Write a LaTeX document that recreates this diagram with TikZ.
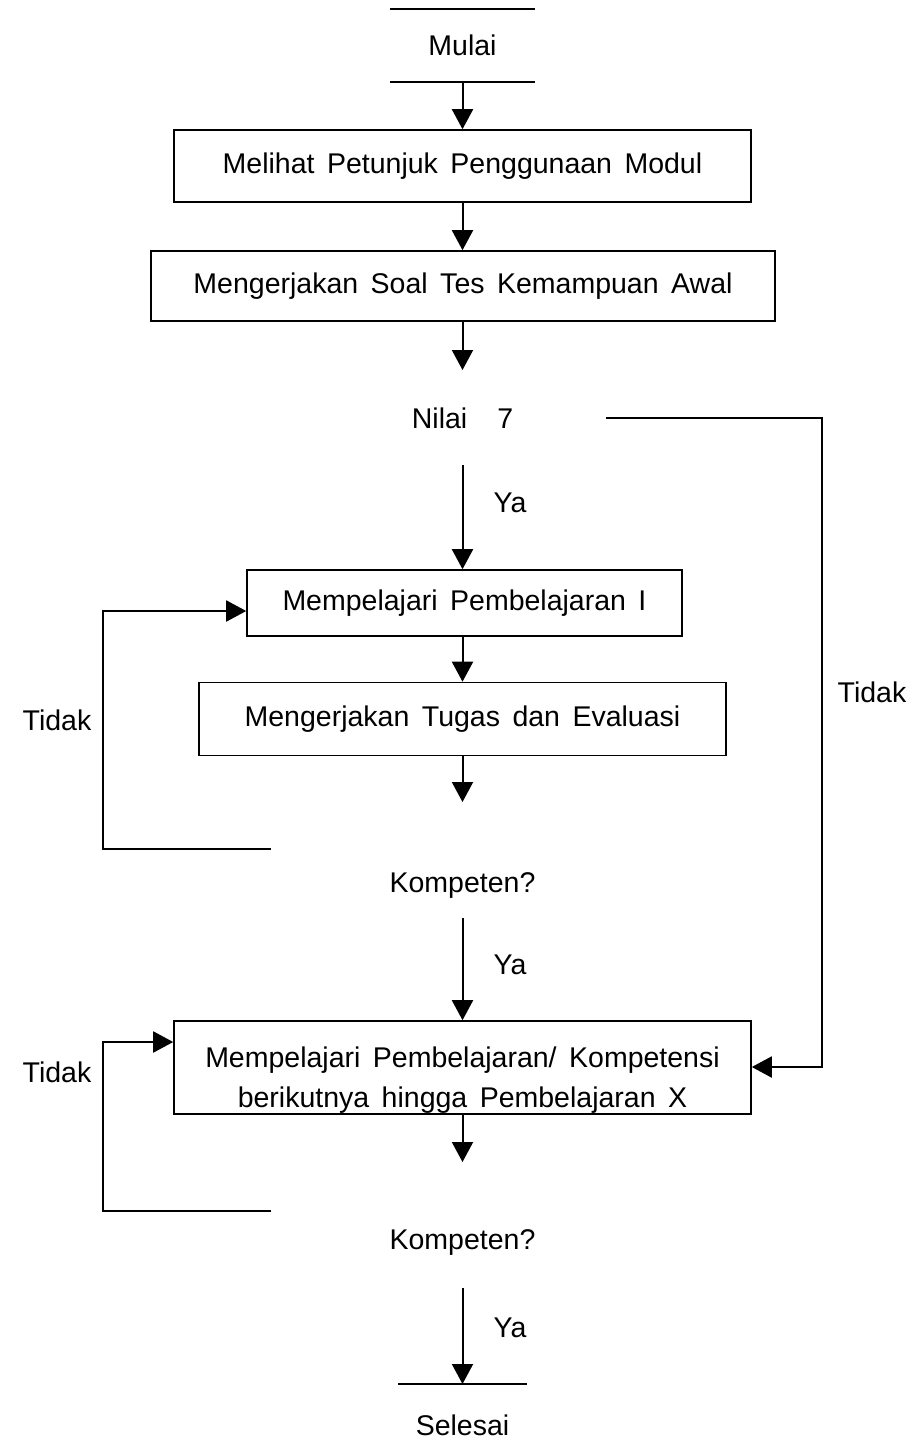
\documentclass[tikz,border=0pt]{standalone}
\usepackage{fontspec}
\setmainfont{Liberation Sans}
\usetikzlibrary{arrows.meta}
\newcommand\fsz{\fontsize{28.5}{40}\selectfont\spaceskip=12.5pt\relax}
\begin{document}
\begin{tikzpicture}[x=1pt,y=-1pt,line width=2pt,
  arr/.style={-{Triangle[width=21pt,length=20pt]}},
  boxbase/.style={draw,line width=1.6pt,inner sep=0pt,align=center,font=\fsz},
  box/.style={boxbase,text height=21pt,text depth=6pt},
  lbl/.style={inner sep=0pt,font=\fsz}]
\fill[white] (0,0) rectangle (918,1452);
\useasboundingbox (0,0) rectangle (918,1452);
% terminals
\node[lbl,minimum width=143pt,minimum height=71pt] (mulai) at (462.5,45.5) {Mulai};
\draw (mulai.north west) -- (mulai.north east);
\draw (mulai.south west) -- (mulai.south east);
% boxes
\node[box,minimum width=577pt,minimum height=72pt] (b1) at (462.5,166) {Melihat Petunjuk Penggunaan Modul};
\node[box,minimum width=624pt,minimum height=70pt] (b2) at (463,286) {Mengerjakan Soal Tes Kemampuan Awal};
\coordinate (e2) at (462.5,370);
\node[lbl] (nilai) at (462.5,418) {Nilai\hspace{30pt}7};
\coordinate (nr) at (606,418);
\coordinate (ns) at (462.5,465);
\node[box,minimum width=435pt,minimum height=66pt] (b3) at (464.5,603) {Mempelajari Pembelajaran I};
\node[box,minimum width=527pt,minimum height=73pt] (b4) at (462.5,719) {Mengerjakan Tugas dan Evaluasi};
\coordinate (e4) at (462.5,802);
\coordinate (l1) at (271,849);
\coordinate (c1) at (103,611);
\node[lbl] (k1) at (462.5,885) {Kompeten?};
\coordinate (k1s) at (462.5,918);
\node[boxbase,minimum width=577pt,minimum height=93pt] (b5) at (462.5,1067.5) {\rule{0pt}{46pt}Mempelajari Pembelajaran/ Kompetensi\\berikutnya hingga Pembelajaran X};
\coordinate (e5) at (462.5,1162);
\coordinate (l2) at (271,1211);
\coordinate (c2) at (103,1042);
\coordinate (c3) at (822,1067);
\node[lbl] (k2) at (462.5,1242) {Kompeten?};
\coordinate (k2s) at (462.5,1288);
\coordinate (sl) at (398,1384);
\coordinate (sr) at (527,1384);
\coordinate (sc) at (462.5,1384);
\node[lbl] (selesai) at (462.5,1425) {Selesai};
\draw (sl) -- (sr);
% labels
\node[lbl] (ya1) at (510,503) {Ya};
\node[lbl] (ya2) at (510,965) {Ya};
\node[lbl] (ya3) at (510,1328) {Ya};
\node[lbl] (t1) at (57,720) {Tidak};
\node[lbl] (t2) at (57,1072) {Tidak};
\node[lbl] (t3) at (872,692) {Tidak};
% connectors
\draw[arr] (mulai.south) -- (b1.north);
\draw[arr] (b1.south) -- (b1.south |- b2.north);
\draw[arr] (b2.south -| b1.south) -- (e2);
\draw[arr] (ns) -- (ns |- b3.north);
\draw[arr] (b3.south -| b4.north) -- (b4.north);
\draw[arr] (b4.south) -- (e4);
\draw[arr] (l1) -| (c1) -- (c1 -| b3.west);
\draw[arr] (k1s) -- (b5.north);
\draw[arr] (b5.south) -- (e5);
\draw[arr] (l2) -| (c2) -- (c2 -| b5.west);
\draw[arr] (nr) -| (c3) -- (c3 -| b5.east);
\draw[arr] (k2s) -- (sc);
\end{tikzpicture}
\end{document}
